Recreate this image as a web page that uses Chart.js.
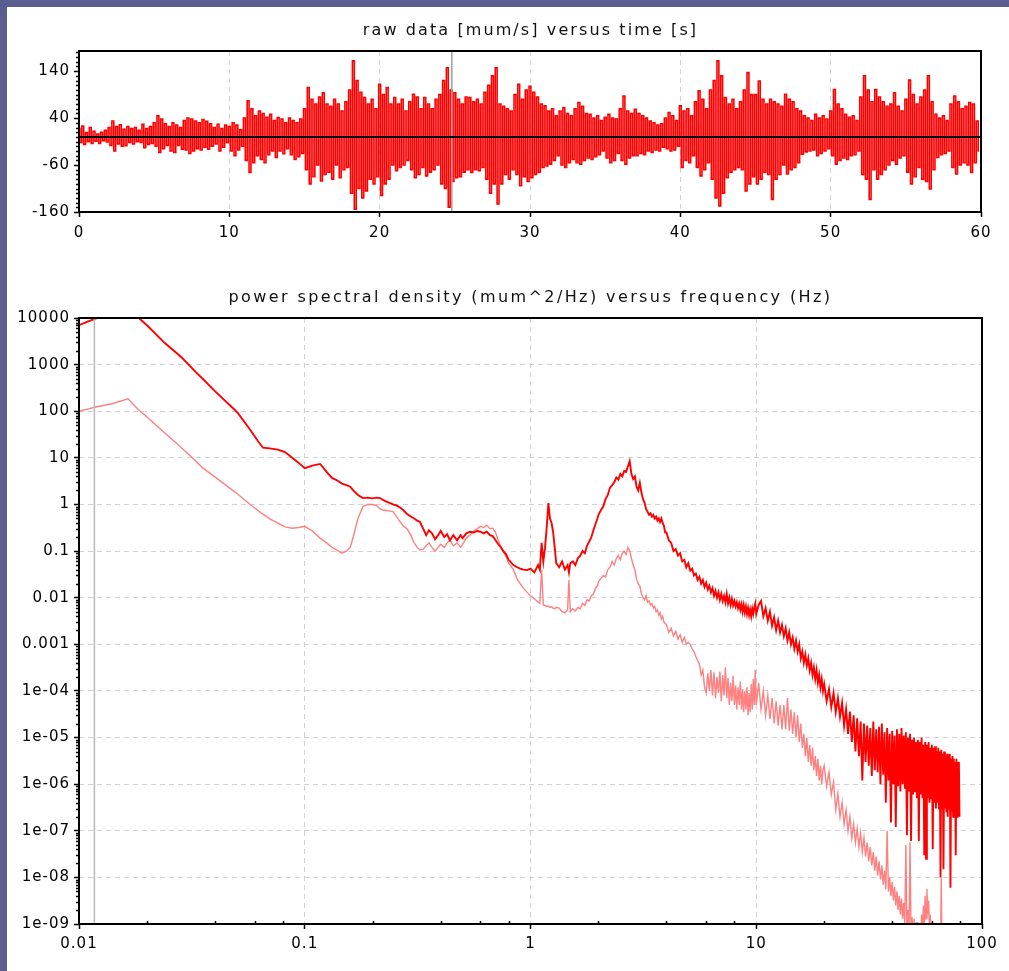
<!DOCTYPE html>
<html>
<head>
<meta charset="utf-8">
<script src="https://cdn.jsdelivr.net/npm/chart.js@4.4.1/dist/chart.umd.min.js"></script>
<style>
html, body { margin: 0; padding: 0; }
body { width: 1009px; height: 971px; background: #5b5c8f; position: relative; overflow: hidden; }
#panel { position: absolute; left: 7px; top: 7px; right: 0; bottom: 0; background: #fff; }
.title { position: absolute; left: 79px; width: 903px; text-align: center; font: 16px "DejaVu Sans"; line-height: 20px; color: #111; white-space: nowrap; z-index: 2; }
.box { position: absolute; left: 0; z-index: 1; }
</style>
</head>
<body>
<div id="panel"></div>
<div class="title" style="top:20px;letter-spacing:2.1px">raw data [mum/s] versus time [s]</div>
<div class="box" style="top:0"><canvas id="rawChart" width="1009" height="250"></canvas></div>
<div class="title" style="top:287px;letter-spacing:2.4px">power spectral density (mum^2/Hz) versus frequency (Hz)</div>
<div class="box" style="top:260px"><canvas id="psdChart" width="1009" height="711"></canvas></div>

<script>
// raw signal, 8 samples per second
const rawStep = 0.125;
const rawSignal = [
  18, -12, 23, -16, 9, -10, 20, -14,
  12, -9, 6, -14, 10, -8, 14, -11,
  20, -18, 34, -30, 22, -15, 26, -20,
  16, -19, 22, -12, 18, -15, 20, -10,
  14, -12, 27, -23, 18, -16, 22, -14,
  30, -20, 45, -33, 38, -25, 28, -18,
  22, -30, 30, -33, 25, -18, 20, -26,
  35, -28, 40, -35, 38, -30, 34, -25,
  30, -28, 37, -22, 33, -26, 28, -20,
  20, -15, 27, -30, 18, -22, 25, -12,
  22, -30, 30, -40, 25, -28, 15, -20,
  40, -50, 77, -76, 60, -55, 45, -40,
  55, -48, 50, -55, 42, -38, 48, -30,
  35, -44, 41, -30, 38, -36, 30, -25,
  40, -38, 35, -48, 30, -42, 38, -35,
  60, -70, 105, -100, 80, -85, 70, -60,
  85, -94, 94, -80, 70, -75, 65, -90,
  80, -60, 70, -87, 55, -70, 75, -65,
  100, -120, 162, -154, 120, -110, 95, -130,
  84, -115, 70, -90, 80, -100, 60, -85,
  112, -125, 90, -100, 105, -90, 70, -60,
  84, -72, 70, -65, 80, -60, 55, -50,
  75, -70, 91, -87, 85, -80, 60, -65,
  84, -83, 70, -75, 60, -70, 80, -60,
  90, -100, 120, -110, 147, -150, 100, -95,
  94, -87, 80, -85, 70, -75, 85, -70,
  84, -76, 75, -70, 80, -72, 70, -65,
  95, -90, 110, -120, 130, -100, 147, -143,
  70, -100, 65, -80, 60, -90, 55, -70,
  90, -80, 112, -104, 80, -85, 100, -95,
  108, -87, 95, -80, 85, -75, 70, -65,
  66, -62, 55, -58, 60, -50, 45, -40,
  55, -60, 62, -65, 50, -55, 45, -48,
  60, -55, 73, -58, 65, -50, 50, -45,
  48, -48, 40, -42, 45, -38, 35, -30,
  42, -45, 48, -55, 40, -50, 38, -35,
  60, -50, 87, -58, 55, -45, 50, -40,
  59, -40, 50, -35, 45, -38, 40, -30,
  34, -33, 30, -28, 25, -30, 28, -22,
  40, -25, 52, -30, 45, -28, 35, -20,
  66, -65, 55, -50, 60, -55, 45, -40,
  75, -65, 98, -83, 80, -70, 60, -55,
  100, -90, 120, -130, 162, -147, 130, -120,
  84, -87, 70, -75, 80, -70, 60, -65,
  75, -70, 100, -115, 137, -100, 90, -85,
  90, -100, 119, -90, 80, -75, 70, -80,
  80, -133, 75, -90, 70, -80, 65, -60,
  91, -79, 80, -70, 75, -65, 60, -55,
  55, -37, 45, -32, 40, -30, 35, -28,
  48, -40, 40, -35, 45, -30, 38, -25,
  55, -40, 101, -58, 70, -50, 60, -45,
  48, -48, 42, -40, 45, -38, 35, -30,
  85, -80, 130, -90, 100, -133, 75, -70,
  101, -90, 85, -80, 75, -70, 65, -60,
  70, -50, 94, -58, 65, -45, 55, -40,
  80, -75, 121, -100, 90, -85, 70, -65,
  85, -90, 100, -95, 130, -111, 75, -70,
  48, -44, 40, -38, 45, -35, 35, -30,
  70, -65, 87, -79, 75, -60, 60, -55,
  65, -60, 73, -76, 70, -55, 34, -30
];
const timeTicks = [0, 10, 20, 30, 40, 50, 60];
const rawYTicks = [-160, -60, 40, 140];
const cursorTime = 24.8;

// power spectral density
const psdFreq = [
  0.0100, 0.0110, 0.0120, 0.0140, 0.0165, 0.0182, 0.0200, 0.0240, 0.0286, 0.0330,
  0.0354, 0.0400, 0.0480, 0.0506, 0.0573, 0.0620, 0.0653, 0.0700, 0.0760, 0.0818,
  0.0880, 0.0940, 0.1000, 0.1080, 0.1170, 0.1250, 0.1320, 0.1390, 0.1460, 0.1530,
  0.1590, 0.1640, 0.1720, 0.1810, 0.1900, 0.1990, 0.2080, 0.2160, 0.2220, 0.2300,
  0.2390, 0.2460, 0.2550, 0.2650, 0.2730, 0.2840, 0.2950, 0.3050, 0.3150, 0.3240,
  0.3350, 0.3450, 0.3550, 0.3660, 0.3780, 0.3900, 0.4000, 0.4150, 0.4270, 0.4400,
  0.4550, 0.4730, 0.4900, 0.5000, 0.5200, 0.5400, 0.5600, 0.5800, 0.6000, 0.6200,
  0.6400, 0.6620, 0.6800, 0.7000, 0.7200, 0.7400, 0.7570, 0.7800, 0.8000, 0.8400,
  0.873, 0.900, 0.930, 0.966,
  1.00, 1.04, 1.08, 1.10, 1.12, 1.14, 1.16, 1.18, 1.20, 1.22,
  1.24, 1.26, 1.28, 1.30, 1.34, 1.38, 1.42, 1.46, 1.48, 1.50,
  1.54, 1.58, 1.62, 1.66, 1.70, 1.74, 1.78, 1.82, 1.86, 1.90,
  1.94, 1.98,
  2.00, 2.05, 2.10, 2.15, 2.20, 2.25, 2.30, 2.35, 2.40, 2.45,
  2.50, 2.55, 2.60, 2.65, 2.70, 2.75, 2.80, 2.85, 2.90, 2.95,
  3.00, 3.05, 3.10, 3.15, 3.20, 3.25, 3.30, 3.35, 3.40, 3.45,
  3.50, 3.55, 3.60, 3.65, 3.70, 3.75, 3.80, 3.85, 3.90, 3.95,
  4.0, 4.1, 4.2, 4.3, 4.4, 4.5, 4.6, 4.7, 4.8, 4.9,
  5.0, 5.1, 5.2, 5.3, 5.4, 5.5, 5.6, 5.7, 5.8, 5.9,
  6.0, 6.1, 6.2, 6.3, 6.4, 6.5, 6.6, 6.7, 6.8, 6.9,
  7.0, 7.1, 7.2, 7.3, 7.4, 7.5, 7.6, 7.7, 7.8, 7.9,
  8.0, 8.1, 8.2, 8.3, 8.4, 8.5, 8.6, 8.7, 8.8, 8.9,
  9.0, 9.1, 9.2, 9.3, 9.4, 9.5, 9.6, 9.7, 9.8, 9.9,
  10.00, 10.25, 10.50, 10.75, 11.00, 11.25, 11.50, 11.75, 12.00, 12.25,
  12.50, 12.75, 13.00, 13.25, 13.50, 13.75, 14.00, 14.25, 14.50, 14.75,
  15.00, 15.25, 15.50, 15.75, 16.00, 16.25, 16.50, 16.75, 17.00, 17.25,
  17.50, 17.75, 18.00, 18.25, 18.50, 18.75, 19.00, 19.25, 19.50, 19.75,
  20.0, 20.5, 21.0, 21.5, 22.0, 22.5, 23.0, 23.5, 24.0, 24.5,
  25.0, 25.5, 26.0, 26.5, 27.0, 27.5, 28.0, 28.5, 29.0, 29.5,
  30.0, 30.5, 31.0, 31.5, 32.0, 32.5, 33.0, 33.5, 34.0, 34.5,
  35.0, 35.5, 36.0, 36.5, 37.0, 37.5, 38.0, 38.5, 39.0, 39.5,
  40.0, 40.5, 41.0, 41.5, 42.0, 42.5, 43.0, 43.5, 44.0, 44.5,
  45.0, 45.5, 46.0, 46.5, 47.0, 47.5, 48.0, 48.5, 49.0, 49.5,
  50.0, 50.5, 51.0, 51.5, 52.0, 52.5, 53.0, 53.5, 54.0, 54.5,
  55.0, 55.5, 56.0, 56.5, 57.0, 57.5, 58.0, 58.5, 59.0, 59.5,
  60.0, 60.5, 61.0, 61.5, 62.0, 62.5, 63.0, 63.5, 64.0, 64.5,
  65.0, 65.5, 66.0, 66.5, 67.0, 67.5, 68.0, 68.5, 69.0, 69.5,
  70.0, 70.5, 71.0, 71.5, 72.0, 72.5, 73.0, 73.5, 74.0, 74.5,
  75.0, 75.5, 76.0, 76.5, 77.0, 77.5, 78.0, 78.5, 79.0, 79.5
];
const psdRaw = [
  7000, 8500, 10000, 12500, 14000, 10500, 7000, 2900, 1400, 680,
  490, 270, 117, 91, 40, 23, 16.5, 16, 15, 13.3,
  10, 7.8, 6.0, 6.8, 7.4, 5.0, 3.7, 3.3, 2.8, 2.6,
  2.4, 2.0, 1.6, 1.37, 1.4, 1.35, 1.4, 1.37, 1.25, 1.15,
  1.07, 1.0, 0.95, 0.85, 0.76, 0.62, 0.55, 0.5, 0.45, 0.42,
  0.30, 0.22, 0.28, 0.24, 0.18, 0.22, 0.27, 0.20, 0.23, 0.17,
  0.22, 0.17, 0.22, 0.19, 0.24, 0.26, 0.25, 0.27, 0.26, 0.24,
  0.26, 0.22, 0.21, 0.17, 0.14, 0.12, 0.10, 0.085, 0.065, 0.05,
  0.045, 0.042, 0.040, 0.039,
  0.042, 0.035, 0.05, 0.04, 0.15, 0.06, 0.12, 0.32, 1.07, 0.5,
  0.4, 0.25, 0.12, 0.055, 0.045, 0.06, 0.04, 0.05, 0.035, 0.055,
  0.06, 0.05, 0.07, 0.08, 0.1, 0.09, 0.13, 0.16, 0.2, 0.28,
  0.38, 0.5,
  0.6, 0.75, 0.9, 1.3, 1.6, 2.3, 2.6, 3.0, 3.8, 3.4,
  4.5, 4.0, 5.2, 5.0, 6.5, 8.5, 4.5, 3.5, 4.0, 2.4,
  2.0, 2.9, 1.8, 1.3, 1.1, 0.8, 0.7, 0.6, 0.65, 0.55,
  0.6, 0.5, 0.55, 0.45, 0.5, 0.42, 0.5, 0.4, 0.35, 0.25,
  0.25, 0.17, 0.15, 0.1, 0.11, 0.08, 0.09, 0.06, 0.065, 0.045,
  0.055, 0.038, 0.042, 0.03, 0.033, 0.024, 0.028, 0.02, 0.024, 0.017,
  0.021, 0.015, 0.018, 0.013, 0.016, 0.011, 0.014, 0.01, 0.013, 0.009,
  0.012, 0.0085, 0.011, 0.008, 0.012, 0.0075, 0.01, 0.007, 0.0095, 0.0068,
  0.0085, 0.0065, 0.008, 0.006, 0.0075, 0.0055, 0.0072, 0.005, 0.007, 0.0048,
  0.0065, 0.0045, 0.006, 0.0042, 0.0055, 0.004, 0.0058, 0.0045, 0.0062, 0.0075,
  0.0045, 0.007, 0.0085, 0.004, 0.006, 0.0032, 0.005, 0.0025, 0.0038, 0.002,
  0.0032, 0.0018, 0.0026, 0.0015, 0.0022, 0.0012, 0.0018, 0.001, 0.0014, 0.0008,
  0.0012, 0.0007, 0.001, 0.0005, 0.0007, 0.0004, 0.0006, 0.00035, 0.0005, 0.00028,
  0.0004, 0.00022, 0.00032, 0.00018, 0.00028, 0.00015, 0.00022, 0.00012, 0.00018, 0.0001,
  1.4e-4, 6e-5, 1.1e-4, 4.5e-5, 9e-5, 3.5e-5, 7e-5, 2.8e-5, 5.5e-5, 1.8e-5,
  4e-5, 1.2e-5, 3.6e-5, 8e-6, 3e-5, 5e-6, 2.6e-5, 4e-6, 2.2e-5, 1.2e-6,
  2e-5, 3e-6, 1.8e-5, 2.5e-6, 1.6e-5, 1.5e-6, 2.2e-5, 2e-6, 1.5e-5, 1.8e-6,
  1.7e-5, 1e-6, 2e-5, 1.6e-6, 1.3e-5, 4e-7, 1.6e-5, 1.2e-6, 1.2e-5, 1.5e-7,
  1.4e-5, 1e-6, 1.1e-5, 1.2e-7, 1.5e-5, 9e-7, 1.2e-5, 7e-7, 1.6e-5, 1e-6,
  1.1e-5, 8e-7, 1.3e-5, 8e-8, 1e-5, 7e-7, 1.2e-5, 6e-8, 9e-6, 6e-7,
  1e-5, 7e-7, 8e-6, 5e-7, 9e-6, 6e-8, 8e-6, 6e-7, 1e-5, 5e-7,
  7e-6, 3e-8, 8e-6, 2.5e-8, 7e-6, 5e-7, 8e-6, 4e-7, 6e-6, 5e-7,
  7e-6, 4e-8, 6e-6, 4e-7, 6.5e-6, 3e-7, 5e-6, 4e-7, 6e-6, 3e-7,
  5e-6, 1e-8, 5.5e-6, 3e-7, 4.5e-6, 1.5e-8, 5e-6, 3e-7, 4e-6, 2.5e-7,
  4.5e-6, 2e-7, 4e-6, 3e-7, 4.5e-6, 6e-9, 3.5e-6, 2.5e-7, 4e-6, 2e-7,
  3.5e-6, 2e-7, 3e-6, 3e-8, 3.5e-6, 2e-7, 3e-6, 1.5e-6, 3e-6, 2e-7
];
const psdSmooth = [
  100, 112, 125, 145, 185, 112, 75, 34, 16, 8.5,
  6, 3.9, 2.0, 1.66, 1.0, 0.74, 0.62, 0.49, 0.40, 0.33,
  0.31, 0.32, 0.34, 0.27, 0.19, 0.15, 0.12, 0.105, 0.09, 0.10,
  0.12, 0.2, 0.5, 0.9, 1.0, 1.0, 0.95, 0.8, 0.76, 0.74,
  0.72, 0.70, 0.55, 0.42, 0.35, 0.30, 0.22, 0.15, 0.12, 0.105,
  0.11, 0.13, 0.15, 0.12, 0.10, 0.12, 0.14, 0.12, 0.15, 0.17,
  0.13, 0.15, 0.12, 0.14, 0.19, 0.22, 0.27, 0.30, 0.34, 0.32,
  0.36, 0.30, 0.31, 0.25, 0.17, 0.12, 0.10, 0.075, 0.055, 0.040,
  0.025, 0.020, 0.016, 0.013,
  0.011, 0.0095, 0.008, 0.0076, 0.039, 0.007, 0.0068, 0.0065, 0.0066, 0.0062,
  0.0064, 0.006, 0.0058, 0.0062, 0.006, 0.005, 0.0047, 0.0055, 0.024, 0.005,
  0.0058, 0.0052, 0.0062, 0.0058, 0.0075, 0.0068, 0.009, 0.0085, 0.011, 0.012,
  0.016, 0.018,
  0.022, 0.026, 0.03, 0.028, 0.04, 0.045, 0.06, 0.05, 0.07, 0.08,
  0.065, 0.09, 0.1, 0.085, 0.12, 0.1, 0.07, 0.05, 0.04, 0.025,
  0.02, 0.018, 0.012, 0.01, 0.009, 0.011, 0.008, 0.0085, 0.007, 0.0075,
  0.006, 0.0065, 0.005, 0.0055, 0.0042, 0.0048, 0.0035, 0.004, 0.003, 0.0028,
  0.0026, 0.0018, 0.0022, 0.0015, 0.0019, 0.0013, 0.0016, 0.0011, 0.0014, 0.001,
  0.0011, 0.001, 0.0008, 0.0007, 0.00055, 0.00045, 0.00038, 0.00022, 0.00028, 0.00012,
  0.00009, 0.00024, 0.0001, 0.00028, 0.00008, 0.00025, 0.00007, 0.0002, 0.00009, 0.00026,
  0.00006, 0.00022, 0.00008, 0.00032, 0.00007, 0.00019, 0.00005, 0.00015, 0.00006, 0.00021,
  0.00005, 0.00013, 0.00004, 0.00012, 0.00005, 0.00016, 0.00004, 0.00011, 0.000035, 0.0001,
  0.00004, 0.00012, 0.00003, 0.00009, 0.000035, 0.00014, 0.00004, 0.00018, 0.00005, 0.00028,
  0.00005, 0.00015, 0.00004, 0.0001, 0.00003, 0.00008, 0.000025, 0.00007, 0.00002, 0.00006,
  0.000018, 0.00005, 0.000015, 0.00005, 0.000015, 0.00007, 0.000014, 0.00004, 0.000012, 0.000035,
  0.00001, 0.00003, 0.000008, 0.00002, 0.000006, 0.000012, 0.000004, 0.00001, 0.000003, 0.000007,
  2.5e-6, 6e-6, 2e-6, 4e-6, 1.5e-6, 3.5e-6, 1.2e-6, 2.5e-6, 1e-6, 2e-6,
  2.5e-6, 9e-7, 1.8e-6, 6e-7, 1.1e-6, 2.8e-7, 6.3e-7, 2e-7, 4e-7, 1.4e-7,
  2.8e-7, 1e-7, 2e-7, 7e-8, 1.4e-7, 5.6e-8, 1.1e-7, 4.5e-8, 9e-8, 3.5e-8,
  7e-8, 2.8e-8, 5.6e-8, 2.2e-8, 4.5e-8, 1.8e-8, 3.5e-8, 1.4e-8, 2.8e-8, 1.1e-8,
  2.2e-8, 9e-9, 1.8e-8, 7e-9, 1.4e-8, 5.6e-9, 1e-7, 5e-9, 1e-8, 4e-9,
  8e-9, 3.2e-9, 6.3e-9, 2.5e-9, 5e-9, 2e-9, 4e-9, 1.6e-9, 3.5e-9, 1.3e-9,
  2.8e-9, 1e-9, 5e-8, 8e-10, 2e-9, 6e-10, 5.6e-8, 5e-10, 1.4e-9, 4e-10,
  1.3e-9, 4e-10, 1.1e-9, 3e-10, 1.1e-9, 3e-10, 1e-9, 3e-10, 1.6e-9, 5e-10,
  2.5e-9, 8e-10, 4e-9, 1.3e-9, 5.6e-9, 1.6e-9, 3.2e-9, 8e-10, 1.6e-9, 4e-10,
  1e-9, 4e-10, 7e-10, 3e-10, 6e-10, 3e-10, 5e-10, 2.5e-10, 5e-10, 2.5e-10,
  4e-10, 2e-10, 1e-8, 2e-10, 4e-10, 2e-10, 3e-10, 2e-10, 3e-10, 1.5e-10,
  3e-10, 1.5e-10, 2.5e-10, 1.5e-10, 2.5e-10, 1.5e-10, 2e-10, 1e-10, 2e-10, 1e-10,
  2e-10, 1e-10, 2e-10, 1e-10, 1.5e-10, 1e-10, 1.5e-10, 1e-10, 1.5e-10, 1e-10
];
const freqTicks = [0.01, 0.1, 1, 10, 100];
const freqLabels = ['0.01', '0.1', '1', '10', '100'];
const psdYTicks = [1e-9, 1e-8, 1e-7, 1e-6, 1e-5, 1e-4, 1e-3, 1e-2, 1e-1, 1, 10, 100, 1000, 10000];
const psdYLabels = ['1e-09', '1e-08', '1e-07', '1e-06', '1e-05', '1e-04', '0.001', '0.01', '0.1', '1', '10', '100', '1000', '10000'];
const cursorFreq = 0.0117;

if (psdRaw.length !== psdFreq.length || psdSmooth.length !== psdFreq.length) {
  throw new Error('psd arrays differ: ' + psdFreq.length + ' ' + psdRaw.length + ' ' + psdSmooth.length);
}

Chart.defaults.font.family = 'DejaVu Sans';
Chart.defaults.font.size = 15;
Chart.defaults.color = '#000';

// minor ticks between the labelled ones
const rawMinorY = [];
for (let v = -150; v <= 180; v += 10) if (!rawYTicks.includes(v)) rawMinorY.push(v);
const logMinorX = [], logMinorY = [];
[0.01, 0.1, 1, 10].forEach(d => [2, 4, 6, 8].forEach(m => logMinorX.push(d * m)));
psdYTicks.slice(0, -1).forEach(d => [2, 3, 4, 5, 6, 7, 8, 9].forEach(m => logMinorY.push(d * m)));

const framePlugin = {
  id: 'frame',
  beforeDraw(chart) {
    chart.ctx.letterSpacing = '1px';
  },
  afterDatasetsDraw(chart, args, opts) {
    const { ctx, chartArea: a, scales } = chart;
    ctx.save();
    if (opts.cursorX !== undefined) {
      const x = scales.x.getPixelForValue(opts.cursorX);
      ctx.strokeStyle = opts.cursorColor;
      ctx.lineWidth = 1.5;
      ctx.beginPath();
      ctx.moveTo(x, a.top);
      ctx.lineTo(x, a.bottom);
      ctx.stroke();
    }
    if (opts.zeroLine) {
      const y = scales.y.getPixelForValue(0);
      ctx.strokeStyle = '#000';
      ctx.lineWidth = 2;
      ctx.beginPath();
      ctx.moveTo(a.left, y);
      ctx.lineTo(a.right, y);
      ctx.stroke();
    }
    ctx.restore();
  },
  afterDraw(chart, args, opts) {
    const { ctx, chartArea: a, scales } = chart;
    ctx.save();
    ctx.strokeStyle = '#000';
    ctx.lineWidth = 1.5;
    ctx.beginPath();
    (opts.minorY || []).forEach(v => {
      const y = Math.round(scales.y.getPixelForValue(v)) + 0.5;
      ctx.moveTo(a.left - 3, y);
      ctx.lineTo(a.left, y);
    });
    (opts.minorX || []).forEach(v => {
      const x = Math.round(scales.x.getPixelForValue(v)) + 0.5;
      ctx.moveTo(x, a.bottom);
      ctx.lineTo(x, a.bottom - 3);
    });
    ctx.stroke();
    ctx.lineWidth = 2;
    ctx.strokeRect(a.left, a.top, a.right - a.left, a.bottom - a.top);
    ctx.restore();
  }
};

const gridDash = [5, 4];
const gridGray = '#d2d2d2';

new Chart(document.getElementById('rawChart'), {
  type: 'line',
  data: {
    datasets: [{
      data: rawSignal.map((v, i) => ({ x: i * rawStep, y: v })),
      borderColor: '#ff0000',
      borderWidth: 1.6,
      stepped: 'middle',
      pointRadius: 0
    }]
  },
  options: {
    responsive: false,
    animation: false,
    events: [],
    layout: { padding: { left: 0, right: 28, top: 51, bottom: 0 } },
    plugins: {
      legend: { display: false },
      tooltip: { enabled: false },
      frame: { cursorX: cursorTime, cursorColor: '#a0a0a0', zeroLine: true, minorY: rawMinorY }
    },
    scales: {
      x: {
        type: 'linear',
        min: 0,
        max: 60,
        afterBuildTicks: s => { s.ticks = timeTicks.map(v => ({ value: v })); },
        afterFit: s => { s.height = 38; },
        grid: { color: gridGray, lineWidth: 1, tickColor: '#000', tickLength: 5, tickWidth: 1.5 },
        border: { display: false, dash: gridDash },
        ticks: { padding: 7, maxRotation: 0, autoSkip: false, callback: v => String(v) }
      },
      y: {
        min: -160,
        max: 183,
        afterBuildTicks: s => { s.ticks = rawYTicks.map(v => ({ value: v })); },
        afterFit: s => { s.width = 79; },
        grid: { drawOnChartArea: false, tickColor: '#000', tickLength: 5, tickWidth: 1.5 },
        border: { display: false },
        ticks: { padding: 4, autoSkip: false, callback: v => String(v) }
      }
    }
  },
  plugins: [framePlugin]
});

new Chart(document.getElementById('psdChart'), {
  type: 'line',
  data: {
    datasets: [
      {
        data: psdFreq.map((f, i) => ({ x: f, y: psdRaw[i] })),
        borderColor: '#ff0000',
        borderWidth: 1.9,
        pointRadius: 0,
        tension: 0,
        order: 1
      },
      {
        data: psdFreq.map((f, i) => ({ x: f, y: psdSmooth[i] })),
        borderColor: '#ff8080',
        borderWidth: 1.4,
        pointRadius: 0,
        tension: 0,
        order: 2
      }
    ]
  },
  options: {
    responsive: false,
    animation: false,
    events: [],
    layout: { padding: { left: 0, right: 27, top: 58, bottom: 0 } },
    plugins: {
      legend: { display: false },
      tooltip: { enabled: false },
      frame: { cursorX: cursorFreq, cursorColor: '#b8b8b8', minorX: logMinorX, minorY: logMinorY }
    },
    scales: {
      x: {
        type: 'logarithmic',
        min: 0.01,
        max: 100,
        afterBuildTicks: s => { s.ticks = freqTicks.map(v => ({ value: v })); },
        afterFit: s => { s.height = 47; },
        grid: { color: gridGray, lineWidth: 1, tickColor: '#000', tickLength: 5, tickWidth: 1.5 },
        border: { display: false, dash: gridDash },
        ticks: { padding: 6, maxRotation: 0, autoSkip: false, callback: (v, i) => freqLabels[i] }
      },
      y: {
        type: 'logarithmic',
        min: 1e-9,
        max: 1e4,
        afterBuildTicks: s => { s.ticks = psdYTicks.map(v => ({ value: v })); },
        afterFit: s => { s.width = 79; },
        grid: { color: gridGray, lineWidth: 1, tickColor: '#000', tickLength: 5, tickWidth: 1.5 },
        border: { display: false, dash: gridDash },
        ticks: { padding: 4, autoSkip: false, callback: (v, i) => psdYLabels[i] }
      }
    }
  },
  plugins: [framePlugin]
});
</script>
</body>
</html>
